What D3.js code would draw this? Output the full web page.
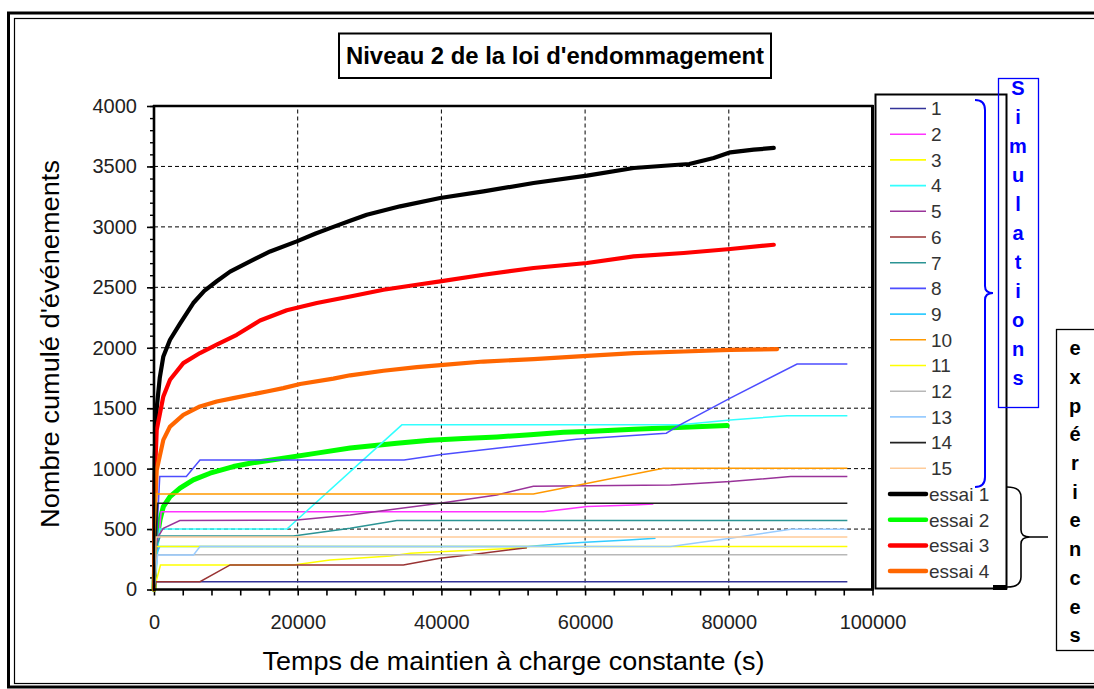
<!DOCTYPE html>
<html><head><meta charset="utf-8">
<script src="https://cdn.jsdelivr.net/npm/d3@7/dist/d3.min.js"></script>
<style>
html,body{margin:0;padding:0;background:#fff;}
svg{display:block;font-family:"Liberation Sans",Arial,sans-serif;}
</style></head>
<body>
<svg id="chart" width="1094" height="689"></svg>
<script>
// ---------- DATA ----------
const chartTitle = "Niveau 2 de la loi d'endommagement";
const xTitle = "Temps de maintien à charge constante (s)";
const yTitle = "Nombre cumulé d'événements";
const xLabelTicks = [0, 20000, 40000, 60000, 80000, 100000];
const yLabelTicks = [0, 500, 1000, 1500, 2000, 2500, 3000, 3500, 4000];
const xGrid = [20000, 40000, 60000, 80000];
const yGrid = [500, 1000, 1500, 2000, 2500, 3000, 3500];

const seriesNames = ["1","2","3","4","5","6","7","8","9","10","11","12","13","14","15","essai 1","essai 2","essai 3","essai 4"];
const seriesColors = ["#333399","#ff33ff","#ffff00","#33ffff","#993399","#993333","#2b9494","#4d4dff","#33ccff","#ff9900","#ffff00","#b8b8b8","#99ccff","#222222","#ffcc99","#000000","#00ff00","#ff0000","#ff6600"];

// simulations: [time (s), cumulated events]
const sim1  = [[0,0],[200,65],[96500,65]];
const sim2  = [[0,0],[1000,644],[54200,644],[60300,686],[66800,700],[69500,708]];
const sim3  = [[0,0],[900,203],[19400,203],[24500,244],[32900,277],[35700,300],[39800,313],[51900,346]];
const sim4  = [[0,0],[800,501],[18500,501],[34500,1362],[73300,1362],[80200,1403],[88100,1437],[96500,1437]];
const sim5  = [[0,0],[500,430],[1300,507],[3600,570],[19900,575],[27300,617],[39800,714],[47700,782],[52800,855],[71900,865],[80200,893],[88600,934],[96500,934]];
const sim6  = [[0,0],[300,65],[6400,65],[10600,203],[34700,203],[39800,258],[44900,294],[51900,346]];
const sim7  = [[0,0],[300,354],[900,443],[19400,443],[24500,484],[27300,507],[33800,570],[96500,570]];
const sim8  = [[0,0],[800,935],[4500,935],[6400,1072],[34800,1072],[39800,1114],[47700,1169],[58800,1244],[71300,1293],[73200,1362],[80200,1583],[89500,1865],[96500,1865]];
const sim9  = [[0,0],[300,290],[800,355],[52000,355],[56800,378],[60000,390],[66000,410],[69800,424]];
const sim10 = [[0,0],[300,790],[52800,790],[70900,1003],[96500,1003]];
const sim11 = [[0,0],[300,355],[96500,355]];
const sim12 = [[0,0],[300,288],[96500,288]];
const sim13 = [[0,0],[500,286],[5500,286],[6400,355],[71900,355],[80200,424],[88600,498],[96500,498]];
const sim14 = [[0,0],[500,714],[96500,714]];
const sim15 = [[0,0],[300,435],[96500,435]];

// experiments
const essai1 = [[0,0],[100,1100],[376,1500],[800,1750],[1300,1928],[2230,2066],[3620,2200],[5470,2370],[7000,2470],[8730,2550],[10590,2630],[13370,2715],[16160,2797],[19870,2880],[22500,2945],[24970,3000],[27300,3050],[29620,3101],[34260,3170],[39830,3239],[45860,3294],[52830,3363],[60260,3424],[66760,3487],[72000,3510],[74500,3520],[77900,3570],[80220,3617],[83470,3639],[86260,3653]];
const essai2 = [[0,0],[150,300],[376,410],[836,575],[1300,686],[2230,768],[3620,838],[5470,907],[7800,962],[11040,1017],[13370,1045],[18000,1086],[22660,1128],[27300,1170],[33800,1210],[38440,1235],[43080,1250],[47730,1262],[52370,1280],[57010,1300],[60260,1307],[66760,1326],[73720,1343],[79760,1356]];
const essai3 = [[0,0],[100,900],[376,1320],[1300,1597],[2230,1735],[4080,1873],[6400,1956],[8730,2025],[11520,2107],[14760,2225],[18480,2310],[22660,2370],[27300,2424],[31940,2480],[36590,2521],[39830,2549],[45860,2604],[52830,2660],[60260,2701],[66760,2756],[73720,2784],[80220,2817],[86260,2852]];
const essai4 = [[0,0],[100,600],[376,989],[1300,1238],[2230,1348],[4080,1445],[6400,1514],[8730,1555],[11040,1583],[13370,1611],[15700,1638],[18000,1666],[20330,1700],[24970,1745],[27300,1772],[31940,1810],[36590,1840],[40290,1859],[45860,1886],[52830,1906],[60260,1933],[66760,1956],[73720,1969],[80220,1983],[86730,1989]];

const simData = [sim1,sim2,sim3,sim4,sim5,sim6,sim7,sim8,sim9,sim10,sim11,sim12,sim13,sim14,sim15];
const essaiData = [essai1,essai2,essai3,essai4];
const simLetters = "Simulations".split("");
const expLetters = "expériences".split("");

// ---------- DRAW ----------
const svg = d3.select("#chart");
const x = d3.scaleLinear().domain([0,100000]).range([154,872.5]);
const y = d3.scaleLinear().domain([0,4000]).range([589.5,106]);

// outer double frame
svg.append("rect").attr("x",8.5).attr("y",13).attr("width",1100).attr("height",674)
  .attr("fill","none").attr("stroke","#000").attr("stroke-width",3);
svg.append("rect").attr("x",14.5).attr("y",18.5).attr("width",1100).attr("height",665)
  .attr("fill","none").attr("stroke","#000").attr("stroke-width",1.2);

// title
svg.append("rect").attr("x",339).attr("y",33.5).attr("width",432).attr("height",44.5)
  .attr("fill","#fff").attr("stroke","#000").attr("stroke-width",2);
svg.append("text").attr("x",555).attr("y",64).attr("text-anchor","middle")
  .attr("font-weight","bold").attr("font-size",24).attr("textLength",418)
  .attr("lengthAdjust","spacingAndGlyphs").text(chartTitle);

// gridlines
svg.append("g").selectAll("line").data(yGrid).join("line")
  .attr("x1",x(0)).attr("x2",x(100000)).attr("y1",d=>y(d)).attr("y2",d=>y(d))
  .attr("stroke","#000").attr("stroke-width",1).attr("stroke-dasharray","4,3");
svg.append("g").selectAll("line").data(xGrid).join("line")
  .attr("x1",d=>x(d)).attr("x2",d=>x(d)).attr("y1",y(0)).attr("y2",y(4000))
  .attr("stroke","#000").attr("stroke-width",1).attr("stroke-dasharray","4,3");

// axes
const xAxis = d3.axisBottom(x).tickValues(d3.range(0,100001,4000))
  .tickFormat(d => xLabelTicks.includes(d) ? String(d) : "")
  .tickSize(6).tickSizeOuter(0).tickPadding(19);
const gx = svg.append("g").attr("transform",`translate(0,${y(0)})`).call(xAxis);
gx.select(".domain").remove();
gx.selectAll(".tick line").attr("stroke","#000").attr("stroke-width",1.6);
gx.selectAll("text").attr("font-size",20).attr("fill","#222").attr("font-family","Liberation Sans, Arial, sans-serif");

const yMinor = d3.axisLeft(y).tickValues(d3.range(0,4001,100)).tickFormat("").tickSize(4).tickSizeOuter(0);
const gy1 = svg.append("g").attr("transform",`translate(${x(0)},0)`).call(yMinor);
gy1.select(".domain").remove();
gy1.selectAll(".tick line").attr("stroke","#000").attr("stroke-width",1.4);
const yMajor = d3.axisLeft(y).tickValues(yLabelTicks).tickSize(7).tickSizeOuter(0).tickPadding(10).tickFormat(d=>String(d));
const gy2 = svg.append("g").attr("transform",`translate(${x(0)},0)`).call(yMajor);
gy2.select(".domain").remove();
gy2.selectAll(".tick line").attr("stroke","#000").attr("stroke-width",1.6);
gy2.selectAll("text").attr("font-size",20).attr("fill","#222").attr("font-family","Liberation Sans, Arial, sans-serif");

// data lines (experiments first, simulations on top)
const line = d3.line().x(d=>x(d[0])).y(d=>y(d[1]));
const plot = svg.append("g");
plot.selectAll("path.essai").data(essaiData).join("path").attr("class","essai")
  .attr("d",line).attr("fill","none")
  .attr("stroke",(d,i)=>seriesColors[15+i])
  .attr("stroke-width",(d,i)=> i===1 ? 5 : 4.2)
  .attr("stroke-linejoin","round").attr("stroke-linecap","round");
plot.selectAll("path.sim").data(simData).join("path").attr("class","sim")
  .attr("d",line).attr("fill","none")
  .attr("stroke",(d,i)=>seriesColors[i])
  .attr("stroke-width",1.5);

// plot frame
svg.append("line").attr("x1",x(0)).attr("x2",x(0)).attr("y1",y(4000)-1).attr("y2",y(0)+1.2).attr("stroke","#000").attr("stroke-width",2.6);
svg.append("line").attr("x1",x(0)-1).attr("x2",x(100000)+1).attr("y1",y(0)).attr("y2",y(0)).attr("stroke","#000").attr("stroke-width",2.6);
svg.append("line").attr("x1",x(0)-1).attr("x2",x(100000)+1).attr("y1",y(4000)).attr("y2",y(4000)).attr("stroke","#000").attr("stroke-width",2.4);
svg.append("line").attr("x1",x(100000)).attr("x2",x(100000)).attr("y1",y(4000)-1).attr("y2",y(0)+1).attr("stroke","#000").attr("stroke-width",3);

// axis titles
svg.append("text").attr("x",513.5).attr("y",670).attr("text-anchor","middle")
  .attr("font-size",25).attr("fill","#000").attr("textLength",502).attr("lengthAdjust","spacingAndGlyphs").text(xTitle);
svg.append("text").attr("transform","translate(59,344) rotate(-90)").attr("text-anchor","middle")
  .attr("font-size",25).attr("fill","#000").attr("textLength",368).attr("lengthAdjust","spacingAndGlyphs").text(yTitle);

// legend
const lg = svg.append("g");
lg.append("rect").attr("x",875.5).attr("y",94.5).attr("width",131).attr("height",494)
  .attr("fill","#fff").attr("stroke","#000").attr("stroke-width",2);
lg.append("rect").attr("x",993).attr("y",585).attr("width",14).attr("height",5).attr("fill","#000");
const rows = lg.selectAll("g.row").data(seriesNames).join("g").attr("class","row")
  .attr("transform",(d,i)=>`translate(0,${108.5 + i*25.7})`);
rows.append("line").attr("x1",890).attr("x2",926).attr("y1",0).attr("y2",0)
  .attr("stroke",(d,i)=>seriesColors[i]).attr("stroke-width",(d,i)=> i>=15 ? 4.5 : 1.6)
  .attr("stroke-linecap",(d,i)=> i>=15 ? "round" : "butt");
rows.append("text").attr("x",(d,i)=> i>=15 ? 929 : 931).attr("y",0).attr("dy","0.36em")
  .attr("font-size",19).attr("fill","#333").text(d=>d);

// blue brace + "Simulations" box
svg.append("path").attr("d","M975,100 Q985,100 985,110 L985,286 Q985,293 993,293 Q985,293 985,300 L985,477 Q985,487 975,487")
  .attr("fill","none").attr("stroke","#0000ff").attr("stroke-width",2);
svg.append("rect").attr("x",998.5).attr("y",78.5).attr("width",40).attr("height",329)
  .attr("fill","none").attr("stroke","#0000ff").attr("stroke-width",1.3);
svg.append("g").selectAll("text").data(simLetters).join("text")
  .attr("x",1018).attr("y",(d,i)=>88 + i*29).attr("dy","0.36em").attr("text-anchor","middle")
  .attr("font-weight","bold").attr("font-size",20).attr("fill","#0000ff").text(d=>d);

// black brace + "expériences" box
svg.append("path").attr("d","M1007,487 Q1021,487 1021,497 L1021,530 Q1021,537 1030,537 L1048,537 M1030,537 Q1021,537 1021,544 L1021,577 Q1021,587 1007,587")
  .attr("fill","none").attr("stroke","#000").attr("stroke-width",1.6);
svg.append("rect").attr("x",1056.5).attr("y",329.5).attr("width",60).attr("height",321)
  .attr("fill","#fff").attr("stroke","#000").attr("stroke-width",1.3);
svg.append("g").selectAll("text").data(expLetters).join("text")
  .attr("x",1075).attr("y",(d,i)=>348 + i*28.7).attr("dy","0.36em").attr("text-anchor","middle")
  .attr("font-weight","bold").attr("font-size",20).attr("fill","#000").text(d=>d);
</script>
</body></html>
